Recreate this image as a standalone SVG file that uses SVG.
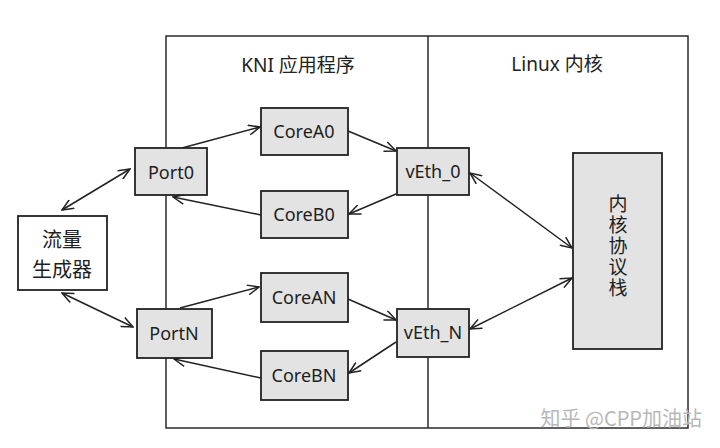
<svg xmlns="http://www.w3.org/2000/svg" width="720" height="448" viewBox="0 0 720 448">
<style>
.frame{fill:none;stroke:#2a2a2a;stroke-width:1.5}
.box{fill:#e3e3e3;stroke:#222;stroke-width:1.8}
.wbox{fill:#fff;stroke:#222;stroke-width:1.8}
.lbl{font-family:"Noto Sans","Noto Sans CJK SC",sans-serif;font-size:18px;fill:#1e1e1e;text-anchor:middle;dominant-baseline:central}
.cjk{font-family:"Noto Sans CJK SC","Noto Sans",sans-serif;font-size:20px;fill:#1e1e1e;text-anchor:middle;dominant-baseline:central}
.vert{font-family:"Noto Sans CJK SC","Noto Sans",sans-serif;font-size:19px;fill:#1e1e1e;text-anchor:middle;writing-mode:vertical-rl;letter-spacing:2px}
.title{font-family:"Noto Sans","Noto Sans CJK SC",sans-serif;font-size:19px;fill:#222;text-anchor:middle;dominant-baseline:central}
.conn line{stroke:#222;stroke-width:1.5;fill:none}
.wm{font-family:"Noto Sans CJK SC","Noto Sans",sans-serif;font-size:20px;fill:#b8b8b8}
</style>
<defs>
<marker id="ah" viewBox="0 0 13 11" refX="12" refY="5.5" markerWidth="13" markerHeight="11" markerUnits="userSpaceOnUse" orient="auto-start-reverse">
<path d="M0.5,0.5 L12,5.5 L0.5,10.5" fill="none" stroke="#222" stroke-width="1.5"/>
</marker>
</defs>
<rect width="720" height="448" fill="#fff"/>
<g id="frame">
<rect class="frame" x="166" y="36" width="522" height="392"/>
<line class="frame" x1="428" y1="36" x2="428" y2="428"/>
<text class="title" x="298" y="65">KNI 应用程序</text>
<text class="title" x="557" y="64">Linux 内核</text>
</g>
<g class="conn" id="connectors">
<line x1="62" y1="210" x2="130" y2="169" marker-start="url(#ah)" marker-end="url(#ah)"/>
<line x1="62" y1="293" x2="133" y2="327" marker-start="url(#ah)" marker-end="url(#ah)"/>
<line x1="182" y1="148" x2="260" y2="127" marker-end="url(#ah)"/>
<line x1="348" y1="131" x2="396" y2="151" marker-end="url(#ah)"/>
<line x1="396" y1="194" x2="349" y2="214" marker-end="url(#ah)"/>
<line x1="261" y1="215" x2="173" y2="197" marker-end="url(#ah)"/>
<line x1="180" y1="308" x2="259" y2="287" marker-end="url(#ah)"/>
<line x1="348" y1="299" x2="396" y2="320" marker-end="url(#ah)"/>
<line x1="396" y1="342" x2="349" y2="373" marker-end="url(#ah)"/>
<line x1="261" y1="378" x2="174" y2="359" marker-end="url(#ah)"/>
<line x1="470" y1="173" x2="572" y2="248" marker-start="url(#ah)" marker-end="url(#ah)"/>
<line x1="470" y1="329" x2="572" y2="278" marker-start="url(#ah)" marker-end="url(#ah)"/>
</g>
<g id="gen">
<rect class="wbox" x="18" y="216" width="89" height="74"/>
<text class="cjk" x="62" y="238">流量</text>
<text class="cjk" x="62" y="268">生成器</text>
</g>
<g id="port0">
<rect class="box" x="135" y="148" width="72" height="47"/>
<text class="lbl" x="171" y="172">Port0</text>
</g>
<g id="portN">
<rect class="box" x="137" y="309" width="75" height="49"/>
<text class="lbl" x="174" y="333">PortN</text>
</g>
<g id="coreA0">
<rect class="box" x="261" y="108" width="87" height="47"/>
<text class="lbl" x="304" y="131">CoreA0</text>
</g>
<g id="coreB0">
<rect class="box" x="261" y="191" width="87" height="47"/>
<text class="lbl" x="304" y="214">CoreB0</text>
</g>
<g id="coreAN">
<rect class="box" x="261" y="273" width="87" height="49"/>
<text class="lbl" x="304" y="297">CoreAN</text>
</g>
<g id="coreBN">
<rect class="box" x="261" y="351" width="87" height="49"/>
<text class="lbl" x="304" y="375">CoreBN</text>
</g>
<g id="veth0">
<rect class="box" x="397" y="148" width="72" height="47"/>
<text class="lbl" x="433" y="171">vEth_0</text>
</g>
<g id="vethN">
<rect class="box" x="397" y="309" width="72" height="48"/>
<text class="lbl" x="433" y="332">vEth_N</text>
</g>
<g id="stack">
<rect class="box" x="573" y="153" width="89" height="196"/>
<text class="vert" x="618" y="247">内核协议栈</text>
</g>
<text class="wm" x="702" y="426" text-anchor="end">知乎 @CPP加油站</text>
</svg>
